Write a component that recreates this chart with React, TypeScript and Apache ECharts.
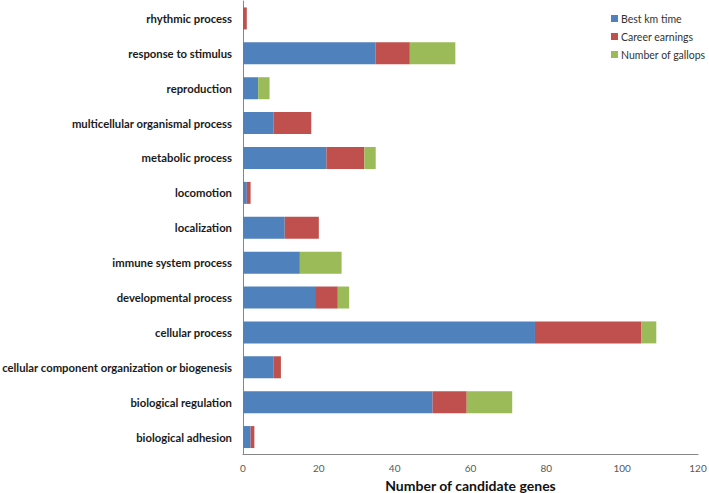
import React, { useEffect, useRef } from "react";
import * as echarts from "echarts";

const categories = [
  "biological adhesion",
  "biological regulation",
  "cellular component organization or biogenesis",
  "cellular process",
  "developmental process",
  "immune system process",
  "localization",
  "locomotion",
  "metabolic process",
  "multicellular organismal process",
  "reproduction",
  "response to stimulus",
  "rhythmic process",
];
const bestKmTime = [2, 50, 8, 77, 19, 15, 11, 1, 22, 8, 4, 35, 0];
const careerEarnings = [1, 9, 2, 28, 6, 0, 9, 1, 10, 10, 0, 9, 1];
const numberOfGallops = [0, 12, 0, 4, 3, 11, 0, 0, 3, 0, 3, 12, 0];
const xTicks = { min: 0, max: 120, interval: 20 };

export default function App() {
  const ref = useRef<HTMLDivElement>(null);
  useEffect(() => {
    const chart = echarts.init(ref.current!, null, { renderer: "svg" });
    const font = "Lato, 'Open Sans', sans-serif";
    const mk = (name: string, data: number[], color: string) => ({
      name,
      type: "bar",
      stack: "total",
      data,
      barWidth: 22,
      itemStyle: { color },
    });
    chart.setOption({
      animation: false,
      textStyle: { fontFamily: font },
      grid: { left: 243, right: 11, top: 1, bottom: 38.5, containLabel: false, outerBoundsMode: "none" },
      legend: {
        orient: "vertical",
        left: 606,
        top: 8,
        itemWidth: 7,
        itemHeight: 7,
        itemGap: 7,
        icon: "rect",
        textStyle: { fontFamily: font, fontSize: 10.5, color: "#333", padding: [0, 0, 0, -2] },
        data: ["Best km time", "Career earnings", "Number of gallops"],
      },
      xAxis: {
        type: "value",
        min: xTicks.min,
        max: xTicks.max,
        interval: xTicks.interval,
        splitLine: { show: false },
        axisLine: { show: true, lineStyle: { color: "#868686" } },
        axisTick: { show: false },
        axisLabel: { fontSize: 10, color: "#595959", margin: 8, fontFamily: font },
        name: "Number of candidate genes",
        nameLocation: "middle",
        nameGap: 24,
        nameTextStyle: { fontSize: 14, fontWeight: "bold", color: "#111", fontFamily: font },
      },
      yAxis: {
        type: "category",
        data: categories,
        axisLine: { show: true, lineStyle: { color: "#868686" } },
        axisTick: { show: false },
        axisLabel: { fontSize: 11.3, fontWeight: "bold", color: "#1a1a1a", margin: 11, fontFamily: font },
      },
      series: [
        mk("Best km time", bestKmTime, "#4F81BD"),
        mk("Career earnings", careerEarnings, "#C0504D"),
        mk("Number of gallops", numberOfGallops, "#9BBB59"),
      ],
    });
    return () => chart.dispose();
  }, []);
  return <div ref={ref} style={{ width: 709, height: 493, position: "absolute", left: 0, top: 0 }} />;
}
